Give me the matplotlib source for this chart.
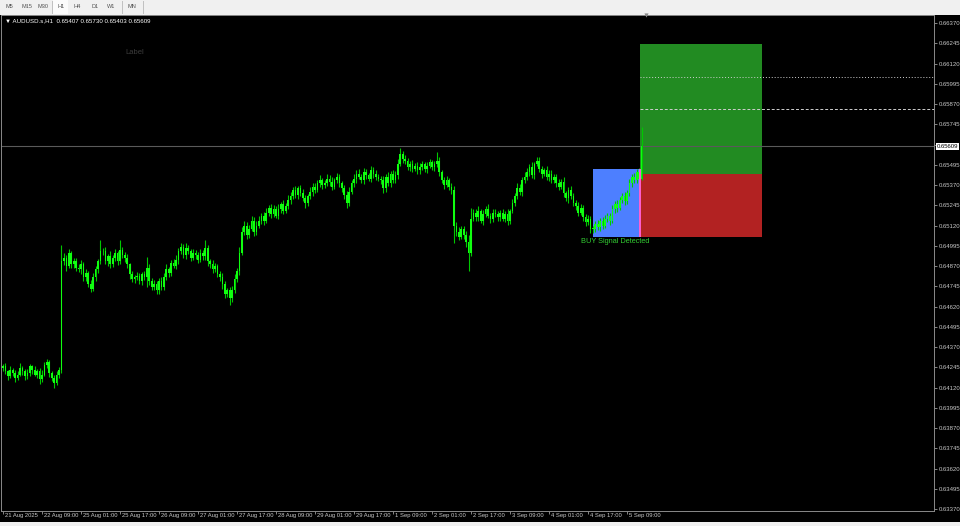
import numpy as np
import matplotlib.pyplot as plt
from matplotlib.patches import Rectangle
import matplotlib.transforms as mtransforms

plt.rcParams['font.family'] = ['Liberation Sans', 'DejaVu Sans']

# AUDUSD.s H1, 21 Aug 2025 17:00 -> 5 Sep 2025 15:00, prices in points (x 1e-5)
first_open = 64240
closes = [
    64250, 64220, 64190, 64230, 64210, 64180, 64200, 64240, 64220, 64190,   # 0
    64210, 64250, 64230, 64200, 64220, 64170, 64200, 64260, 64280, 64210,   # 10
    64180, 64150, 64200, 64230, 64900, 64920, 64870, 64950, 64880, 64900,   # 20
    64860, 64850, 64880, 64800, 64830, 64760, 64730, 64800, 64850, 64900,   # 30
    64960, 64960, 64900, 64930, 64880, 64920, 64950, 64900, 64970, 64940,   # 40
    64920, 64880, 64820, 64790, 64800, 64810, 64780, 64820, 64800, 64860,   # 50
    64780, 64740, 64760, 64720, 64780, 64740, 64800, 64850, 64830, 64890,   # 60
    64870, 64910, 64960, 64990, 64940, 64980, 64960, 64920, 64950, 64940,   # 70
    64910, 64950, 64930, 64980, 64900, 64880, 64850, 64870, 64820, 64800,   # 80
    64760, 64700, 64720, 64670, 64720, 64790, 64840, 64950, 65080, 65120,   # 90
    65060, 65100, 65150, 65080, 65120, 65150, 65180, 65150, 65200, 65230,   # 100
    65190, 65220, 65180, 65220, 65250, 65210, 65240, 65280, 65300, 65340,   # 110
    65310, 65350, 65320, 65290, 65260, 65300, 65330, 65360, 65340, 65380,   # 120
    65400, 65370, 65380, 65410, 65390, 65360, 65400, 65420, 65380, 65350,   # 130
    65310, 65260, 65330, 65380, 65410, 65440, 65420, 65400, 65450, 65430,   # 140
    65410, 65460, 65440, 65420, 65410, 65400, 65350, 65420, 65380, 65440,   # 150
    65400, 65430, 65500, 65560, 65530, 65520, 65480, 65500, 65470, 65490,   # 160
    65460, 65480, 65500, 65470, 65490, 65510, 65480, 65500, 65520, 65450,   # 170
    65400, 65370, 65400, 65360, 65340, 65120, 65080, 65050, 65100, 65060,   # 180
    65020, 64950, 65160, 65200, 65170, 65210, 65150, 65190, 65220, 65180,   # 190
    65160, 65200, 65190, 65170, 65200, 65160, 65190, 65150, 65210, 65260,   # 200
    65300, 65350, 65330, 65400, 65420, 65450, 65480, 65430, 65500, 65520,   # 210
    65470, 65440, 65460, 65420, 65440, 65400, 65420, 65380, 65360, 65390,   # 220
    65320, 65290, 65340, 65300, 65260, 65240, 65200, 65230, 65170, 65140,   # 230
    65160, 65100, 65100, 65130, 65110, 65150, 65120, 65160, 65180, 65150,   # 240
    65220, 65250, 65230, 65280, 65300, 65270, 65320, 65380, 65420, 65400,   # 250
    65450, 65407, 65609,                                                    # 260
]
wick_up = [
    15, 20, 10, 25, 12, 18, 20, 30, 10, 15, 22, 18, 12, 25, 15, 20, 30, 20, 15, 10,
    12, 20, 25, 15, 100, 30, 20, 25, 15, 20, 18, 25, 30, 15, 20, 12, 25, 30, 20, 15,
    70, 20, 25, 15, 30, 20, 25, 15, 60, 20, 15, 25, 10, 20, 15, 25, 20, 15, 20, 65,
    20, 15, 25, 20, 15, 20, 25, 30, 15, 20, 25, 30, 20, 25, 15, 30, 20, 15, 25, 20,
    15, 25, 20, 50, 20, 15, 25, 20, 15, 20, 25, 20, 15, 20, 25, 30, 20, 40, 30, 25,
    20, 25, 30, 20, 25, 30, 20, 25, 30, 15, 20, 25, 20, 30, 15, 25, 20, 30, 25, 20,
    25, 15, 20, 25, 20, 15, 30, 20, 25, 20, 30, 15, 20, 25, 20, 30, 15, 25, 20, 15,
    20, 25, 30, 20, 25, 20, 30, 15, 25, 20, 15, 30, 20, 25, 20, 15, 25, 20, 30, 15,
    20, 25, 30, 40, 20, 25, 15, 20, 25, 15, 20, 25, 20, 15, 25, 20, 15, 20, 55, 20,
    15, 20, 25, 15, 20, 25, 20, 30, 15, 20, 25, 40, 70, 25, 20, 30, 15, 25, 20, 30,
    15, 20, 25, 20, 15, 25, 20, 30, 15, 25, 20, 30, 25, 20, 30, 25, 20, 30, 15, 20,
    25, 20, 15, 30, 20, 25, 15, 20, 25, 20, 30, 15, 20, 25, 20, 15, 25, 20, 15, 20,
    25, 20, 15, 20, 25, 15, 20, 25, 20, 15, 25, 20, 30, 15, 20, 25, 20, 30, 15, 25,
    20, 25, 121,
]
wick_down = [
    20, 15, 25, 10, 20, 25, 15, 10, 20, 25, 15, 20, 25, 10, 20, 30, 15, 10, 20, 25,
    20, 30, 15, 20, 20, 25, 30, 15, 20, 25, 20, 15, 30, 20, 25, 20, 20, 15, 20, 25,
    20, 25, 15, 30, 20, 15, 20, 25, 15, 20, 25, 20, 30, 20, 25, 15, 20, 25, 15, 60,
    25, 20, 15, 25, 20, 15, 20, 15, 25, 20, 15, 20, 25, 15, 20, 25, 15, 20, 15, 25,
    20, 15, 25, 20, 30, 20, 25, 15, 20, 25, 30, 25, 20, 40, 20, 15, 20, 25, 15, 20,
    25, 20, 15, 25, 20, 15, 20, 25, 15, 20, 25, 20, 15, 20, 25, 20, 15, 20, 25, 15,
    20, 25, 15, 20, 30, 20, 15, 25, 20, 15, 20, 25, 20, 15, 25, 20, 15, 20, 25, 20,
    25, 30, 20, 15, 20, 25, 15, 20, 25, 20, 15, 20, 25, 20, 15, 25, 30, 20, 15, 25,
    20, 15, 20, 15, 25, 20, 15, 25, 20, 15, 25, 20, 15, 20, 25, 15, 20, 25, 20, 25,
    20, 25, 15, 20, 25, 110, 25, 20, 15, 25, 30, 110, 20, 15, 25, 20, 15, 25, 20, 15,
    25, 20, 15, 20, 25, 15, 20, 25, 20, 15, 20, 15, 20, 25, 15, 20, 25, 15, 20, 15,
    20, 25, 15, 20, 25, 20, 15, 25, 20, 15, 25, 20, 30, 15, 20, 25, 20, 15, 25, 20,
    15, 25, 25, 20, 15, 25, 20, 15, 20, 25, 15, 20, 25, 15, 20, 25, 15, 20, 25, 15,
    20, 15, 4,
]

date_labels = ['21 Aug 2025', '22 Aug 09:00', '25 Aug 01:00', '25 Aug 17:00', '26 Aug 09:00',
               '27 Aug 01:00', '27 Aug 17:00', '28 Aug 09:00', '29 Aug 01:00', '29 Aug 17:00',
               '1 Sep 09:00', '2 Sep 01:00', '2 Sep 17:00', '3 Sep 09:00', '4 Sep 01:00',
               '4 Sep 17:00', '5 Sep 09:00']
bars_per_label = 16

header = '\u25bc AUDUSD.s,H1  0.65407 0.65730 0.65403 0.65609'
periods = ['M5', 'M15', 'M30', 'H1', 'H4', 'D1', 'W1', 'MN']

# price levels of the signal / position boxes
bid = 0.65609
signal_top = 0.65469
entry = 0.65438
stop = 0.65049
take_profit = 0.66240
tp_line1 = 0.65839
tp_line2 = 0.66039
signal_bar = 242
entry_bar = 261.4
box_bars = 50

tick_lo, tick_hi, tick_step = 0.63370, 0.66370, 0.00125

# ---------------------------------------------------------------
W, H = 960, 526
fig = plt.figure(figsize=(9.6, 5.26), dpi=100, facecolor='#f0f0f0')

# black chart window (behind the axes)
fig.patches.append(Rectangle((0, 4 / H), 1, (522 - 15) / H, transform=fig.transFigure,
                             facecolor='black', edgecolor='none', zorder=-5))

ax = fig.add_axes([1 / W, (H - 511) / H, (934 - 1) / W, (511 - 15) / H])
ax.set_facecolor('black')

n = len(closes)
x = np.arange(n)
c = np.array(closes, dtype=float)
o = np.concatenate([[first_open], c[:-1]])
body_lo = np.minimum(o, c)
body_hi = np.maximum(o, c)
highs = (body_hi + np.array(wick_up)) / 1e5
lows = (body_lo - np.array(wick_down)) / 1e5

# trade boxes
ax.add_patch(Rectangle((signal_bar, stop), entry_bar - signal_bar, signal_top - stop,
                       facecolor='#4d7fff', edgecolor='none', zorder=1))
ax.add_patch(Rectangle((entry_bar, entry), box_bars, take_profit - entry,
                       facecolor='#228b22', edgecolor='none', zorder=1))
ax.add_patch(Rectangle((entry_bar, stop), box_bars, entry - stop,
                       facecolor='#b22222', edgecolor='none', zorder=1))

# candles
ax.vlines(x, lows, highs, color='#00c800', lw=0.8, zorder=3)
ax.bar(x, np.maximum(body_hi - body_lo, 4) / 1e5, bottom=body_lo / 1e5, width=0.7,
       color='#10ff10', lw=0, zorder=3)

ax.vlines(entry_bar - 0.2, stop, signal_top, color='#ff5fd2', lw=1.4, zorder=4)

# bid line and target lines
ax.axhline(bid, color='#5a5a5a', lw=0.8, zorder=2)
xmin, xmax = -0.82, 381.95
ax.hlines(tp_line2, entry_bar, xmax, colors='#cfcfcf', lw=0.7, linestyles=(0, (1, 2)), zorder=2)
ax.hlines(tp_line1, entry_bar, xmax, colors='#cfcfcf', lw=0.7, linestyles=(0, (3, 2)), zorder=2)

ax.text(237, stop - 0.00004, 'BUY Signal Detected', color='#32cd32', fontsize=5.3,
        ha='left', va='top', zorder=5)

ax.set_xlim(xmin, xmax)
ax.set_ylim(0.633578, 0.664195)

# price axis (the tick hidden under the bid label gets no text, as in the terminal)
yt = np.arange(tick_lo, tick_hi + tick_step / 2, tick_step)
ax.yaxis.tick_right()
ax.set_yticks(yt)
ax.set_yticklabels(['' if abs(v - bid) < tick_step / 2 else f'{v:.5f}' for v in yt])
ax.tick_params(axis='y', colors='#9a9a9a', labelcolor='#c8c8c8', labelsize=4.3,
               length=2.5, width=0.6, pad=1.0)

ax.annotate(f'{bid:.5f}', xy=(1, bid), xycoords=('axes fraction', 'data'),
            xytext=(2.0, 0), textcoords='offset points', ha='left', va='center',
            fontsize=4.3, color='black', zorder=10, annotation_clip=False,
            bbox=dict(boxstyle='square,pad=0.15', facecolor='white', edgecolor='none'))

# time axis
xt = np.arange(len(date_labels)) * bars_per_label
ax.set_xticks(xt)
ax.set_xticklabels([''] * len(xt))
ax.tick_params(axis='x', colors='#9a9a9a', length=2, width=0.6)
for pos, lab in zip(xt, date_labels):
    ax.annotate(lab, xy=(pos, 0), xycoords=('data', 'axes fraction'), xytext=(1.2, -1.8),
                textcoords='offset points', ha='left', va='top', fontsize=4.2,
                color='#c8c8c8', annotation_clip=False)

for sp in ax.spines.values():
    sp.set_color('#8a8a8a')
    sp.set_linewidth(0.7)

# chart shift marker
ax.plot([263.8], [1.0], marker='v', ms=3, color='#8a8a8a', mec='none',
        transform=mtransforms.blended_transform_factory(ax.transData, ax.transAxes),
        clip_on=False, zorder=6)

# header and label
fig.text(5 / W, 1 - 21 / H, header, color='white', fontsize=4.4, va='center', ha='left')
fig.text(125 / W, 1 - 52 / H, 'Label', color='#3c3c3c', fontsize=5.5, va='center', ha='left')

# timeframe toolbar
btn_x = [5, 21, 37, 57, 73, 91, 107, 128]
fig.patches.append(Rectangle((53 / W, 1 - 14 / H), 15 / W, 14 / H, transform=fig.transFigure,
                             facecolor='#fbfbfb', edgecolor='none', zorder=-4))
for bx, lab in zip(btn_x, periods):
    fig.text(bx / W, 1 - 7 / H, lab, color='#505050', fontsize=4, va='center', ha='left')
for sx in [52, 122, 143]:
    fig.lines.append(plt.Line2D([sx / W, sx / W], [1 - 13 / H, 1 - 1 / H],
                                transform=fig.transFigure, color='#c0c0c0', lw=0.7))

fig.savefig('out.png', dpi=100, facecolor=fig.get_facecolor())
